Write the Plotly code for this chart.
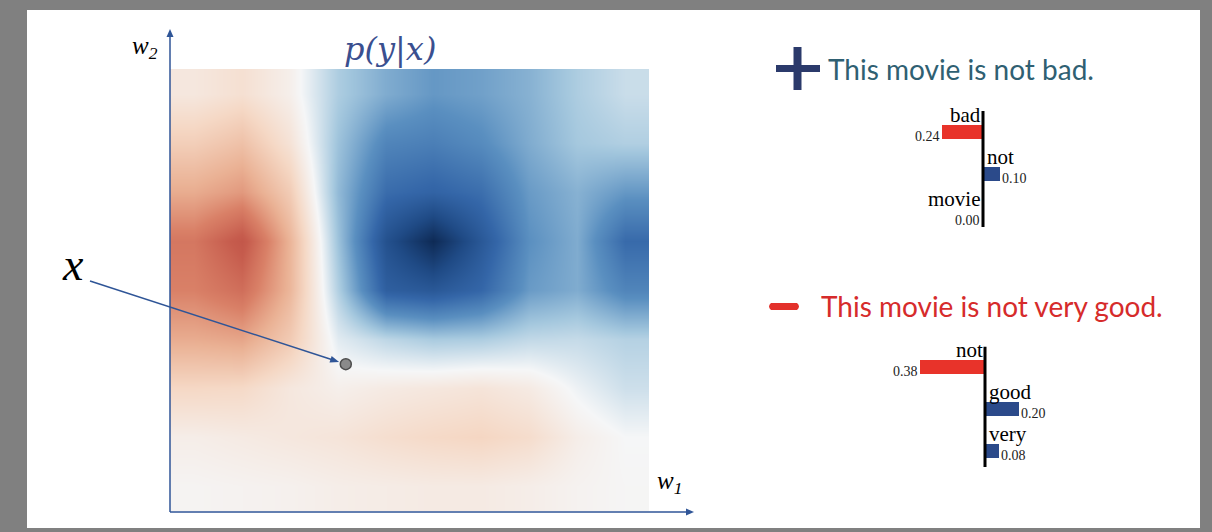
import math
import plotly.graph_objects as go

W, H = 1212, 532


def px(x):
    return x / W


def py(y):
    return 1 - y / H


# ---------------- data ----------------
# p(y|x) surface sampled on a coarse grid (rows = w2 from top, cols = w1 from left)
w1_grid = [0, 1, 2, 3, 4, 5, 6, 7, 8, 9]
w2_grid = [0, 1, 2, 3, 4, 5, 6, 7, 8]
p_y_given_x = [
    [0.10, 0.15, 0.05, -0.18, -0.30, -0.37, -0.34, -0.28, -0.18, -0.11],
    [0.25, 0.32, 0.13, -0.22, -0.45, -0.48, -0.42, -0.30, -0.20, -0.17],
    [0.42, 0.50, 0.26, -0.25, -0.57, -0.62, -0.56, -0.36, -0.28, -0.37],
    [0.65, 0.85, 0.38, -0.22, -0.75, -1.00, -0.70, -0.40, -0.30, -0.58],
    [0.60, 0.70, 0.37, -0.17, -0.65, -0.70, -0.60, -0.36, -0.30, -0.45],
    [0.42, 0.45, 0.27, -0.05, -0.14, -0.19, -0.18, -0.13, -0.12, -0.16],
    [0.20, 0.19, 0.10, 0.05, 0.08, 0.10, 0.12, 0.08, -0.02, -0.10],
    [0.06, 0.08, 0.10, 0.12, 0.16, 0.19, 0.21, 0.17, 0.06, 0.00],
    [0.02, 0.03, 0.04, 0.06, 0.07, 0.08, 0.08, 0.06, 0.03, 0.01],
]
sample_w1 = [3.17]
sample_w2 = [5.51]

pos_sentence = "This movie is not bad."
pos_words = ["bad", "not", "movie"]
pos_weights = [-0.24, 0.10, 0.00]

neg_sentence = "This movie is not very good."
neg_words = ["not", "good", "very"]
neg_weights = [-0.38, 0.20, 0.08]

# ---------------- styles ----------------
RED = "#e8332a"
BLUE = "#2b4a8a"
AXIS_BLUE = "#2f5597"
SERIF = "Liberation Serif"
SANS = "Lato"

colorscale = [
    [0.0, "#0e2a55"],
    [0.1, "#1f4a85"],
    [0.2, "#3466a8"],
    [0.3, "#5a8fc0"],
    [0.4, "#a5c8de"],
    [0.5, "#f5f6f7"],
    [0.6, "#f5d8c5"],
    [0.7, "#eab194"],
    [0.8, "#d98067"],
    [0.9, "#c65c4d"],
    [1.0, "#b84840"],
]

# heat-map box in page pixels
HX0, HX1, HY0, HY1 = 170, 649, 69, 511
XR = [-0.5, len(w1_grid) - 0.5]
YR = [len(w2_grid) - 0.5, -0.5]

fig = go.Figure()

fig.add_trace(go.Heatmap(
    x=w1_grid, y=w2_grid, z=p_y_given_x,
    colorscale=colorscale, zmin=-1, zmax=1, zsmooth="best",
    showscale=False, hoverinfo="skip", xaxis="x", yaxis="y",
))
fig.add_trace(go.Scatter(
    x=sample_w1, y=sample_w2, mode="markers",
    marker=dict(size=11, color="#8a8a8a", line=dict(color="#4d4d4d", width=1.5)),
    hoverinfo="skip", xaxis="x", yaxis="y", showlegend=False,
))

SCALE = 172.0  # px per weight unit
ROW = 42.0     # px per row

charts = [
    dict(words=pos_words, w=pos_weights, xa="x2", ya="y2", zero=983, left=900, right=1060, c0=132,
         line=(-0.5, 2.26)),
    dict(words=neg_words, w=neg_weights, xa="x3", ya="y3", zero=985, left=880, right=1060, c0=367,
         line=(-0.48, 2.38)),
]

annotations = []
shapes = []
layout_axes = {}

for k, c in enumerate(charts):
    rows = list(range(len(c["words"])))
    fig.add_trace(go.Bar(
        x=c["w"], y=rows, orientation="h", width=0.33,
        marker=dict(color=[RED if v < 0 else BLUE for v in c["w"]], line=dict(width=0)),
        xaxis=c["xa"], yaxis=c["ya"], hoverinfo="skip", showlegend=False,
    ))
    n = k + 2
    xr = [-(c["zero"] - c["left"]) / SCALE, (c["right"] - c["zero"]) / SCALE]
    top = c["c0"] - 0.6 * ROW
    bot = c["c0"] + (len(rows) - 1 + 0.6) * ROW
    layout_axes[f"xaxis{n}"] = dict(domain=[px(c["left"]), px(c["right"])], range=xr,
                                    visible=False, anchor=f"y{n}", fixedrange=True)
    layout_axes[f"yaxis{n}"] = dict(domain=[py(bot), py(top)], range=[len(rows) - 1 + 0.6, -0.6],
                                    visible=False, anchor=f"x{n}", fixedrange=True)
    shapes.append(dict(type="line", xref=c["xa"], yref=c["ya"], x0=0, x1=0,
                       y0=c["line"][0], y1=c["line"][1], line=dict(color="black", width=3)))
    for i, (wd, v) in enumerate(zip(c["words"], c["w"])):
        right = v > 0
        annotations.append(dict(xref=c["xa"], yref=c["ya"], x=0, y=i - 0.4, text=wd,
                                xanchor="left" if right else "right", yanchor="middle",
                                xshift=2 if right else 0, showarrow=False,
                                font=dict(family=SERIF, size=21, color="black")))
        annotations.append(dict(xref=c["xa"], yref=c["ya"], x=v, y=i + 0.1, text=f"{abs(v):.2f}",
                                xanchor="left" if right else "right", yanchor="middle",
                                xshift=0 if v != 0 else -1, showarrow=False,
                                font=dict(family=SERIF, size=14, color="#222")))

# frame (white card on grey)
shapes.insert(0, dict(type="rect", xref="paper", yref="paper", x0=px(27), x1=px(1200),
                      y0=py(528), y1=py(10), fillcolor="white", line=dict(width=0), layer="below"))
# + and - symbols
shapes += [
    dict(type="line", xref="paper", yref="paper", x0=px(776), x1=px(820), y0=py(68.5), y1=py(68.5),
         line=dict(color="#2b3a6b", width=7)),
    dict(type="line", xref="paper", yref="paper", x0=px(797.5), x1=px(797.5), y0=py(47), y1=py(90),
         line=dict(color="#2b3a6b", width=8)),
    dict(type="path", xref="paper", yref="paper",
         path=(f"M{px(771)},{py(303)} L{px(797)},{py(303)} "
               f"Q{px(801)},{py(306.5)} {px(797)},{py(310)} "
               f"L{px(771)},{py(310)} Q{px(767)},{py(306.5)} {px(771)},{py(303)} Z"),
         fillcolor="#e3312b", line=dict(width=0)),
]


def arrow_shapes(x0, y0, x1, y1, color, width=1.5, length=8.0, half=3.5):
    """line from (x0,y0) to tip (x1,y1) in page px, with a filled triangular head."""
    dx, dy = x1 - x0, y1 - y0
    L = math.hypot(dx, dy)
    ux, uy = dx / L, dy / L
    bx, by = x1 - ux * length, y1 - uy * length
    p1 = (bx - uy * half, by + ux * half)
    p2 = (bx + uy * half, by - ux * half)
    return [
        dict(type="line", xref="paper", yref="paper", x0=px(x0), y0=py(y0), x1=px(bx + ux), y1=py(by + uy),
             line=dict(color=color, width=width)),
        dict(type="path", xref="paper", yref="paper",
             path=f"M{px(x1)},{py(y1)} L{px(p1[0])},{py(p1[1])} L{px(p2[0])},{py(p2[1])} Z",
             fillcolor=color, line=dict(width=0)),
    ]


# axes of the w-plane
shapes += arrow_shapes(170, 512, 170, 29, AXIS_BLUE)
shapes += arrow_shapes(170, 512, 694, 512, AXIS_BLUE)

# pointer from the "x" label to the sample point (point position via the heat-map axis mapping)
dot_x = HX0 + (sample_w1[0] - XR[0]) / (XR[1] - XR[0]) * (HX1 - HX0)
dot_y = HY0 + (sample_w2[0] - YR[1]) / (YR[0] - YR[1]) * (HY1 - HY0)
tail_x, tail_y = 90, 281
d = math.hypot(dot_x - tail_x, dot_y - tail_y)
tip_x = dot_x - (dot_x - tail_x) / d * 7.0
tip_y = dot_y - (dot_y - tail_y) / d * 7.0
shapes += arrow_shapes(tail_x, tail_y, tip_x, tip_y, AXIS_BLUE, length=9.0)

annotations += [
    dict(xref="paper", yref="paper", x=px(145), y=py(47), text="<i>w<sub>2</sub></i>", showarrow=False,
         xanchor="center", yanchor="middle", font=dict(family=SERIF, size=25, color="black")),
    dict(xref="paper", yref="paper", x=px(669), y=py(482), text="<i>w<sub>1</sub></i>", showarrow=False,
         xanchor="center", yanchor="middle", font=dict(family=SERIF, size=25, color="black")),
    dict(xref="paper", yref="paper", x=px(390), y=py(49), text="<i>p(y|x)</i>", showarrow=False,
         xanchor="center", yanchor="middle", font=dict(family="DejaVu Serif", size=32, color="#3a4f8f")),
    dict(xref="paper", yref="paper", x=px(73), y=py(264), text="<i>x</i>", showarrow=False,
         xanchor="center", yanchor="middle", font=dict(family=SERIF, size=46, color="black")),
    dict(xref="paper", yref="paper", x=px(826), y=py(69), text=pos_sentence, showarrow=False,
         xanchor="left", yanchor="middle", font=dict(family=SANS, size=28, color="#2f6072")),
    dict(xref="paper", yref="paper", x=px(819), y=py(306), text=neg_sentence, showarrow=False,
         xanchor="left", yanchor="middle", font=dict(family=SANS, size=28, color="#d62b2b")),
]

fig.update_layout(
    width=W, height=H, margin=dict(l=0, r=0, t=0, b=0),
    paper_bgcolor="#808080", plot_bgcolor="rgba(0,0,0,0)",
    showlegend=False, bargap=0,
    xaxis=dict(domain=[px(HX0), px(HX1)], range=XR, visible=False, fixedrange=True),
    yaxis=dict(domain=[py(HY1), py(HY0)], range=YR, visible=False, fixedrange=True),
    shapes=shapes, annotations=annotations,
    **layout_axes,
)

fig.write_html("out.html", config={"displayModeBar": False},
               post_script="document.body.style.margin='0';document.body.style.padding='0';")
